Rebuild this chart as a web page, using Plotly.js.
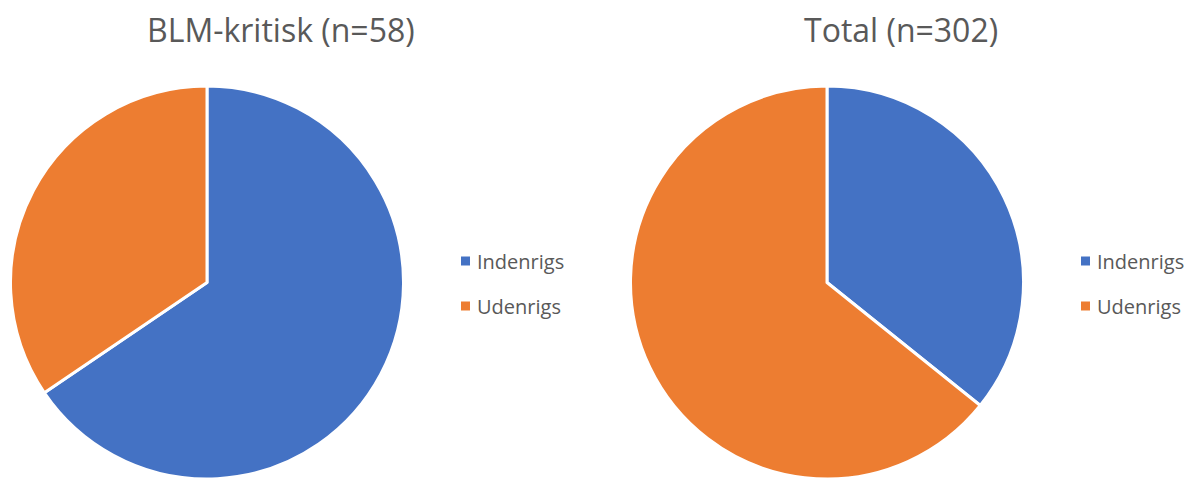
<!DOCTYPE html>
<html>
<head>
<meta charset="utf-8">
<script src="https://cdn.plot.ly/plotly-3.0.1.min.js"></script>
<style>html,body{margin:0;padding:0;background:#fff;}#chart{width:1184px;height:479px;}</style>
</head>
<body>
<div id="chart"></div>
<script>
const labels = ["Indenrigs", "Udenrigs"];
const colors = ["#4472C4", "#ED7D31"];
const blmValues = [38, 20];
const totalValues = [108, 194];
const titles = ["BLM-kritisk (n=58)", "Total (n=302)"];

const W = 1184, H = 479;
const txtColor = "#595959";
const font = "Open Sans, sans-serif";

function pie(values, xd) {
  return {
    type: "pie", labels: labels, values: values, sort: false,
    direction: "clockwise", rotation: 0,
    marker: {colors: colors, line: {color: "#ffffff", width: 3}},
    textinfo: "none", hoverinfo: "label+value+percent",
    domain: {x: xd, y: [0, 1 - 86 / H]}, showlegend: false
  };
}

const data = [
  pie(blmValues, [9 / W, 405 / W]),
  pie(totalValues, [629 / W, 1025 / W])
];

const annotations = [];
const shapes = [];
const titleX = [281, 901];
const legendX = [461, 1081];
const legendY = [261, 306];
titles.forEach((t, i) => {
  annotations.push({text: t, x: titleX[i] / W, y: 1 - 30 / H, xref: "paper", yref: "paper",
    xanchor: "center", yanchor: "middle", showarrow: false,
    font: {family: font, size: 32, color: txtColor}});
  labels.forEach((lab, j) => {
    annotations.push({text: lab, x: (legendX[i] + 14) / W, y: 1 - legendY[j] / H, xref: "paper", yref: "paper",
      xanchor: "left", yanchor: "middle", showarrow: false,
      font: {family: font, size: 20, color: txtColor}});
    shapes.push({type: "rect", xref: "paper", yref: "paper",
      x0: legendX[i] / W, x1: (legendX[i] + 9) / W,
      y0: 1 - (legendY[j] + 4.5) / H, y1: 1 - (legendY[j] - 4.5) / H,
      fillcolor: colors[j], line: {width: 0}});
  });
});

const layout = {
  width: W, height: H, margin: {l: 0, r: 0, t: 0, b: 0},
  paper_bgcolor: "#ffffff", plot_bgcolor: "#ffffff",
  showlegend: false, annotations: annotations, shapes: shapes,
  font: {family: font, color: txtColor}
};

Plotly.newPlot("chart", data, layout, {displayModeBar: false, staticPlot: true});
</script>
</body>
</html>
